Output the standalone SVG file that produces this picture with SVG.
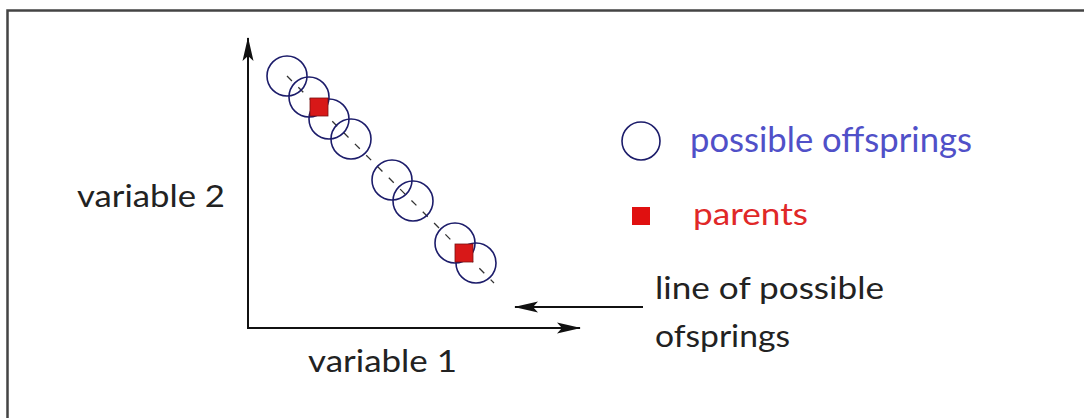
<svg xmlns="http://www.w3.org/2000/svg" width="1084" height="418" viewBox="0 0 1084 418">
<style>
.lbl{font-family:Lato,"Liberation Sans",sans-serif;fill:#222;}
.c{fill:none;stroke:#1c1c6a;stroke-width:1.6;}
.ax{stroke:#111;stroke-width:2;fill:none;}
</style>
<defs>
<marker id="ah" viewBox="0 0 24 14" refX="23" refY="7" markerWidth="24" markerHeight="14" markerUnits="userSpaceOnUse" orient="auto">
<path d="M0,1.5 L24,7 L0,12.5 L5,7 Z" fill="#111"/>
</marker>
</defs>
<rect x="0" y="0" width="1084" height="418" fill="#fff"/>
<path d="M7.5,418 V10.5 H1084" fill="none" stroke="#444" stroke-width="2.5"/>
<g id="connectors">
<line class="ax" x1="248" y1="328" x2="248" y2="38" marker-end="url(#ah)"/>
<line class="ax" x1="247" y1="328" x2="580" y2="328" marker-end="url(#ah)"/>
<line class="ax" x1="643" y1="307" x2="515" y2="307" marker-end="url(#ah)"/>
<line x1="287" y1="76" x2="494" y2="283" stroke="#333" stroke-width="1.3" stroke-dasharray="7,9"/>
</g>
<g id="offsprings">
<circle class="c" cx="287" cy="76" r="20"/>
<circle class="c" cx="309" cy="97" r="20"/>
<circle class="c" cx="329" cy="119" r="20"/>
<circle class="c" cx="351" cy="139" r="20"/>
<circle class="c" cx="392" cy="180" r="20"/>
<circle class="c" cx="413" cy="201" r="20"/>
<circle class="c" cx="455" cy="243" r="20"/>
<circle class="c" cx="476" cy="263" r="20"/>
</g>
<g id="parents">
<rect x="310" y="98" width="18" height="18" fill="#d81818" stroke="#7a1010" stroke-width="0.8"/>
<rect x="455" y="244" width="18" height="18" fill="#d81818" stroke="#7a1010" stroke-width="0.8"/>
</g>
<g id="legend">
<circle class="c" cx="641" cy="141" r="19"/>
<text x="690" y="152" font-family="Lato,'Liberation Sans',sans-serif" font-size="34" fill="#5050c8" textLength="282" lengthAdjust="spacingAndGlyphs">possible offsprings</text>
<rect x="632" y="207" width="18" height="18" fill="#e01010"/>
<text x="693" y="225" font-family="Lato,'Liberation Sans',sans-serif" font-size="31" fill="#e02828" textLength="115" lengthAdjust="spacingAndGlyphs">parents</text>
</g>
<g id="labels">
<text class="lbl" x="77" y="207" font-size="30" textLength="148" lengthAdjust="spacingAndGlyphs">variable 2</text>
<text class="lbl" x="308" y="372" font-size="30" textLength="149" lengthAdjust="spacingAndGlyphs">variable 1</text>
<text class="lbl" x="655" y="299" font-size="31" textLength="229" lengthAdjust="spacingAndGlyphs">line of possible</text>
<text class="lbl" x="655" y="347" font-size="31" textLength="135" lengthAdjust="spacingAndGlyphs">ofsprings</text>
</g>
</svg>
